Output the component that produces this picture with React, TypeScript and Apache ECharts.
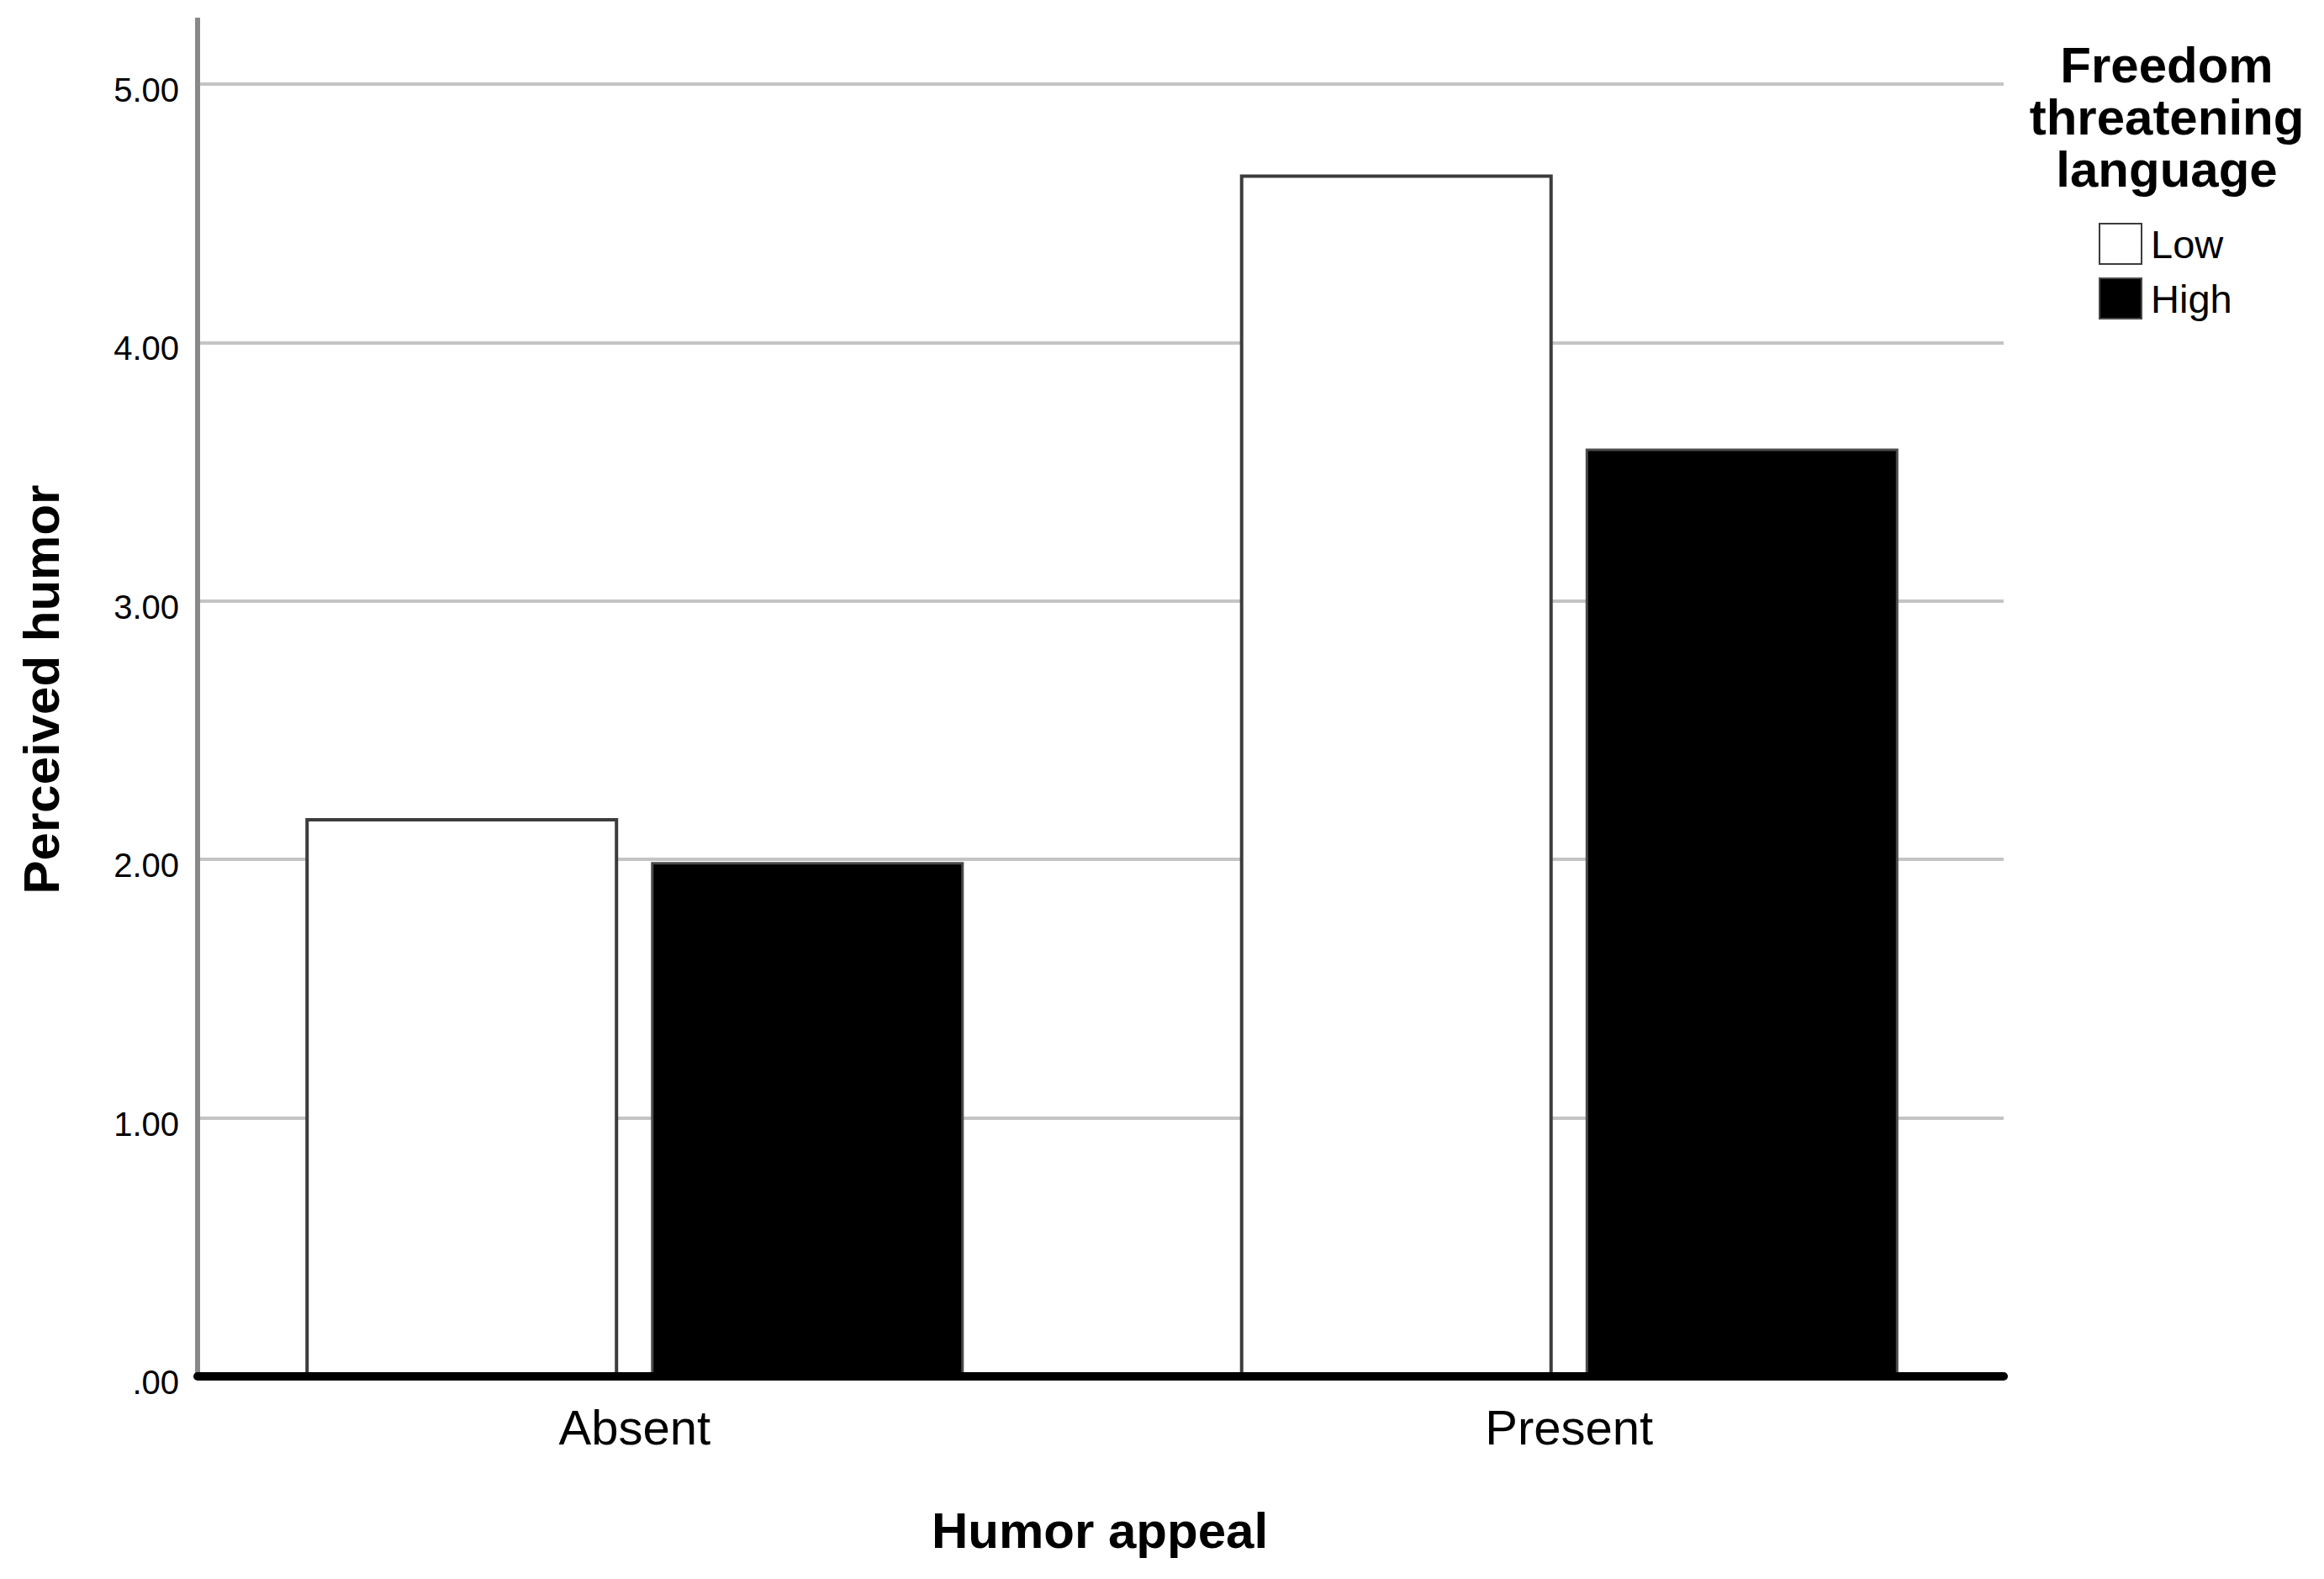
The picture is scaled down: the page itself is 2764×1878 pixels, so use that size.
import React, { useEffect, useRef } from "react";
import * as echarts from "echarts";

const categories = ["Absent", "Present"];
const seriesNames = ["Low", "High"];
const lowValues = [2.16, 4.65];
const highValues = [1.99, 3.59];
const yMin = 0;
const yMax = 5;
const yInterval = 1;

const FONT = "'Liberation Sans', Arial, Helvetica, sans-serif";

function fmtTick(v: number): string {
  if (v === 0) return ".00";
  return v.toFixed(2);
}

export default function App() {
  const ref = useRef<HTMLDivElement>(null);
  useEffect(() => {
    if (!ref.current) return;
    const chart = echarts.init(ref.current, undefined, { renderer: "svg" });
    const option: any = {
      animation: false,
      backgroundColor: "#ffffff",
      textStyle: { fontFamily: FONT },
      grid: [
        { left: 199, right: 342, top: 100, bottom: 241 },
        { left: 235, right: 381, top: 100, bottom: 241 },
      ],
      xAxis: [
        {
          type: "category",
          gridIndex: 0,
          data: categories,
          axisLine: { show: false },
          axisTick: { show: false },
          axisLabel: { fontSize: 58, color: "#000", fontFamily: FONT, margin: 31 },
          splitLine: { show: false },
        },
        {
          type: "category",
          gridIndex: 1,
          data: categories,
          z: 10,
          axisLine: { show: true, lineStyle: { color: "#000", width: 10 } },
          axisTick: { show: false },
          axisLabel: { show: false },
          splitLine: { show: false },
        },
      ],
      yAxis: [
        { type: "value", gridIndex: 0, min: yMin, max: yMax, show: false },
        {
          type: "value",
          gridIndex: 1,
          min: yMin,
          max: yMax,
          interval: yInterval,
          axisLine: { show: true, lineStyle: { color: "#888888", width: 6 } },
          axisTick: { show: false },
          splitLine: { show: true, lineStyle: { color: "#c4c4c4", width: 4 } },
          axisLabel: {
            fontSize: 40,
            color: "#000",
            fontFamily: FONT,
            margin: 22,
            verticalAlign: "top",
            lineHeight: 14,
            formatter: (v: number) => fmtTick(v),
          },
        },
      ],
      legend: {
        data: seriesNames,
        orient: "vertical",
        left: 2496,
        top: 265,
        padding: 0,
        itemWidth: 50,
        itemHeight: 48,
        itemGap: 15,
        icon: "rect",
        textStyle: { fontSize: 47, color: "#000", fontFamily: FONT, padding: [6, 0, 0, 6] },
      },
      series: [
        {
          name: seriesNames[0],
          type: "bar",
          xAxisIndex: 0,
          yAxisIndex: 0,
          data: lowValues,
          barWidth: 372,
          barGap: "10.5%",
          itemStyle: { color: "#ffffff", borderColor: "#3c3c3c", borderWidth: 4 },
        },
        {
          name: seriesNames[1],
          type: "bar",
          xAxisIndex: 0,
          yAxisIndex: 0,
          data: highValues,
          barWidth: 372,
          barGap: "10.5%",
          itemStyle: { color: "#000000", borderColor: "#4a4a4a", borderWidth: 3 },
        },
      ],
      graphic: [
        {
          type: "line",
          shape: { x1: 235, y1: 21, x2: 235, y2: 101 },
          style: { stroke: "#888888", lineWidth: 6 },
        },
        {
          type: "text",
          x: 49,
          y: 820,
          rotation: Math.PI / 2,
          style: {
            text: "Perceived humor",
            font: `bold 60px ${FONT}`,
            fill: "#000",
            textAlign: "center",
            textVerticalAlign: "middle",
          },
        },
        {
          type: "text",
          x: 1308,
          y: 1820,
          style: {
            text: "Humor appeal",
            font: `bold 60px ${FONT}`,
            fill: "#000",
            textAlign: "center",
            textVerticalAlign: "middle",
          },
        },
        {
          type: "text",
          x: 2577,
          y: 46,
          style: {
            text: "Freedom\nthreatening\nlanguage",
            font: `bold 60px ${FONT}`,
            lineHeight: 62,
            fill: "#000",
            textAlign: "center",
            textVerticalAlign: "top",
          },
        },
      ],
    };
    chart.setOption(option);
    return () => chart.dispose();
  }, []);
  return (
    <div
      ref={ref}
      style={{ position: "absolute", left: 0, top: 0, width: 2764, height: 1878 }}
    />
  );
}
